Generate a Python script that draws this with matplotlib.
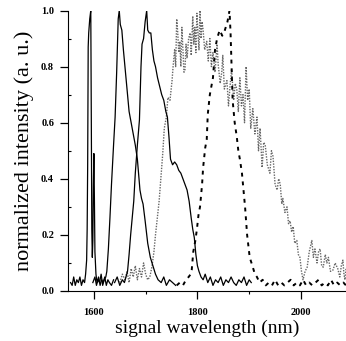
import matplotlib
matplotlib.use("Agg")
from matplotlib import pyplot as plt
from matplotlib.ticker import MultipleLocator

# spectrum 1: narrow line near 1594 nm (solid)
wl1 = [1555, 1558, 1561, 1564, 1567, 1570, 1573, 1576, 1579, 1582, 1584, 1586, 1587, 1588,
       1589, 1590, 1592, 1594, 1595, 1596, 1597, 1598, 1599, 1600, 1601, 1602, 1604, 1606,
       1609, 1612, 1615, 1618, 1621, 1624, 1627, 1630, 1634, 1638]
int1 = [0.03, 0.02, 0.05, 0.02, 0.04, 0.03, 0.05, 0.02, 0.04, 0.03, 0.06, 0.11, 0.22, 0.45,
        0.87, 0.92, 0.97, 1.00, 0.62, 0.22, 0.12, 0.18, 0.38, 0.49, 0.33, 0.14, 0.06, 0.03,
        0.05, 0.02, 0.04, 0.03, 0.05, 0.02, 0.04, 0.03, 0.02, 0.04]

# spectrum 2: peak near 1648 nm (solid)
wl2 = [1598, 1602, 1605, 1608, 1611, 1614, 1617, 1620, 1623, 1625, 1628, 1631, 1634, 1638,
       1641, 1644, 1647, 1649, 1651, 1654, 1657, 1660, 1664, 1668, 1672, 1676, 1680, 1684,
       1689, 1692, 1695, 1699, 1704, 1709, 1714, 1719, 1724, 1730, 1735, 1740, 1746, 1752, 1758]
int2 = [0.03, 0.05, 0.02, 0.04, 0.03, 0.06, 0.02, 0.04, 0.05, 0.07, 0.15, 0.26, 0.38, 0.52,
        0.62, 0.78, 0.97, 1.00, 0.95, 0.93, 0.86, 0.80, 0.72, 0.64, 0.60, 0.56, 0.52, 0.47,
        0.36, 0.33, 0.31, 0.25, 0.17, 0.12, 0.09, 0.06, 0.04, 0.03, 0.05, 0.02, 0.04, 0.03, 0.02]

# spectrum 3: peak near 1702 nm (solid)
wl3 = [1640, 1645, 1650, 1655, 1659, 1662, 1665, 1668, 1671, 1674, 1677, 1680, 1684, 1688,
       1691, 1693, 1696, 1699, 1702, 1704, 1707, 1710, 1713, 1716, 1719, 1723, 1727, 1731,
       1735, 1739, 1742, 1745, 1748, 1752, 1756, 1760, 1764, 1768, 1772, 1776, 1780, 1784,
       1788, 1791, 1794, 1797, 1800, 1803, 1807, 1811, 1815, 1820, 1825, 1830, 1835, 1840,
       1845, 1850, 1855, 1860, 1865, 1870, 1875, 1880, 1885, 1890, 1895, 1900, 1904]
int3 = [0.03, 0.05, 0.02, 0.04, 0.03, 0.05, 0.07, 0.13, 0.20, 0.26, 0.32, 0.42, 0.52, 0.61,
        0.80, 0.88, 0.90, 0.96, 1.00, 0.93, 0.92, 0.92, 0.86, 0.82, 0.80, 0.76, 0.73, 0.70,
        0.68, 0.64, 0.62, 0.55, 0.47, 0.45, 0.46, 0.45, 0.43, 0.42, 0.40, 0.38, 0.36, 0.32,
        0.26, 0.22, 0.19, 0.13, 0.09, 0.07, 0.05, 0.04, 0.06, 0.03, 0.05, 0.02, 0.04, 0.03,
        0.05, 0.02, 0.04, 0.03, 0.05, 0.03, 0.02, 0.04, 0.03, 0.05, 0.02, 0.04, 0.03]

# spectrum 4: broad noisy spectrum (grey dotted)
wl4 = [1650, 1655, 1660, 1664, 1668, 1672, 1676, 1680, 1684, 1688, 1692, 1696, 1700, 1704,
       1708, 1712, 1716, 1719, 1722, 1726, 1728, 1731, 1733, 1736, 1740, 1743, 1747, 1751,
       1753, 1756, 1758, 1760, 1762, 1764, 1766, 1768, 1770, 1772, 1774, 1776, 1778, 1780,
       1783, 1786, 1788, 1791, 1793, 1795, 1797, 1799, 1801, 1803, 1805, 1807, 1809, 1811,
       1814, 1818, 1821, 1824, 1827, 1830, 1834, 1838, 1840, 1844, 1847, 1849, 1852, 1857,
       1860, 1863, 1866, 1870, 1873, 1876, 1879, 1882, 1885, 1888, 1891, 1894, 1897, 1900,
       1903, 1907, 1911, 1915, 1918, 1921, 1925, 1928, 1931, 1935, 1940, 1943, 1946, 1950,
       1954, 1957, 1960, 1963, 1965, 1969, 1973, 1976, 1979, 1982, 1985, 1988, 1992, 1995,
       1998, 2001, 2004, 2008, 2012, 2016, 2021, 2024, 2027, 2031, 2034, 2037, 2040, 2043,
       2047, 2050, 2053, 2057, 2062, 2066, 2071, 2075, 2078, 2081, 2083, 2085, 2087]
int4 = [0.03, 0.06, 0.04, 0.07, 0.03, 0.08, 0.05, 0.09, 0.04, 0.08, 0.05, 0.10, 0.06, 0.04,
        0.05, 0.085, 0.14, 0.20, 0.25, 0.32, 0.37, 0.44, 0.49, 0.58, 0.62, 0.69, 0.68, 0.75,
        0.80, 0.86, 0.80, 0.97, 0.92, 0.85, 0.89, 0.80, 0.94, 0.86, 0.78, 0.79, 0.88, 0.83,
        0.90, 0.92, 0.84, 0.98, 0.88, 0.94, 0.85, 0.99, 0.92, 0.86, 1.00, 0.90, 0.96, 0.93,
        0.86, 0.89, 0.82, 0.90, 0.80, 0.85, 0.78, 0.88, 0.81, 0.74, 0.78, 0.84, 0.72, 0.75,
        0.66, 0.73, 0.79, 0.68, 0.74, 0.72, 0.64, 0.76, 0.66, 0.70, 0.60, 0.80, 0.68, 0.72,
        0.58, 0.65, 0.56, 0.62, 0.50, 0.58, 0.44, 0.53, 0.52, 0.45, 0.42, 0.50, 0.48, 0.38,
        0.36, 0.40, 0.38, 0.31, 0.33, 0.28, 0.30, 0.24, 0.25, 0.21, 0.23, 0.17, 0.18, 0.13,
        0.12, 0.07, 0.04, 0.07, 0.085, 0.14, 0.18, 0.12, 0.15, 0.10, 0.14, 0.15, 0.09, 0.085,
        0.13, 0.10, 0.12, 0.07, 0.075, 0.10, 0.08, 0.05, 0.09, 0.11, 0.06, 0.04, 0.08]

# spectrum 5: peak near 1863 nm (black dashed)
wl5 = [1760, 1766, 1772, 1778, 1783, 1787, 1789, 1792, 1796, 1799, 1802, 1805, 1809, 1811,
       1815, 1818, 1820, 1824, 1828, 1830, 1834, 1838, 1843, 1848, 1853, 1858, 1862, 1864,
       1866, 1868, 1872, 1876, 1879, 1882, 1886, 1889, 1892, 1896, 1901, 1907, 1911, 1915,
       1920, 1926, 1932, 1938, 1944, 1950, 1956, 1962, 1968, 1974, 1980, 1986, 1992, 1998,
       2004, 2010, 2016, 2022, 2028, 2034, 2040, 2046, 2052, 2058, 2064, 2070, 2076, 2082, 2087]
int5 = [0.02, 0.03, 0.02, 0.04, 0.05, 0.06, 0.075, 0.14, 0.18, 0.22, 0.27, 0.30, 0.38, 0.44,
        0.51, 0.54, 0.63, 0.70, 0.74, 0.76, 0.86, 0.90, 0.93, 0.91, 0.93, 0.96, 1.00, 0.92,
        0.80, 0.68, 0.60, 0.55, 0.50, 0.47, 0.42, 0.36, 0.30, 0.20, 0.12, 0.085, 0.06, 0.05,
        0.03, 0.04, 0.02, 0.03, 0.02, 0.04, 0.02, 0.03, 0.02, 0.03, 0.04, 0.02, 0.03, 0.02,
        0.04, 0.02, 0.03, 0.02, 0.03, 0.04, 0.02, 0.03, 0.02, 0.04, 0.02, 0.03, 0.02, 0.03, 0.02]

plt.rcParams['font.family'] = ['Liberation Serif', 'DejaVu Serif']

fig = plt.figure(figsize=(3.46, 3.41), dpi=100)
ax = fig.add_axes([68 / 346, 1 - 291 / 341, 1 - 68 / 346, (291 - 10.5) / 341])

ax.plot(wl4, int4, color='0.4', lw=1.0, ls=(0, (1, 1)))
ax.plot(wl5, int5, color='black', lw=1.4, ls=(0, (2, 2.5)))
ax.plot(wl1, int1, color='black', lw=0.9)
ax.plot(wl2, int2, color='black', lw=0.9)
ax.plot(wl3, int3, color='black', lw=0.9)

ax.set_xlim(1550, 2087)
ax.set_ylim(0, 1.0)
ax.spines['top'].set_visible(False)
ax.spines['right'].set_visible(False)
ax.xaxis.set_major_locator(MultipleLocator(200))
ax.xaxis.set_minor_locator(MultipleLocator(100))
ax.yaxis.set_major_locator(MultipleLocator(0.2))
ax.yaxis.set_minor_locator(MultipleLocator(0.1))
ax.tick_params(axis='both', which='major', direction='out', length=6, width=0.9, labelsize=7.5)
ax.tick_params(axis='x', which='minor', direction='out', length=2.5, width=0.8)
ax.tick_params(axis='y', which='minor', direction='in', length=2.5, width=0.8)
ax.tick_params(axis='x', which='major', pad=6)
ax.tick_params(axis='y', which='major', pad=4)
ax.set_yticks([0.0, 0.2, 0.4, 0.6, 0.8, 1.0])
ax.set_yticklabels(['0.0', '0.2', '0.4', '0.6', '0.8', '1.0'])
for lab in ax.get_xticklabels() + ax.get_yticklabels():
    lab.set_fontweight('bold')

ax.set_xlabel('signal wavelength (nm)', fontsize=14, labelpad=2)
ax.set_ylabel('normalized intensity (a. u.)', fontsize=16, labelpad=5)

fig.savefig('out.png', dpi=100)
